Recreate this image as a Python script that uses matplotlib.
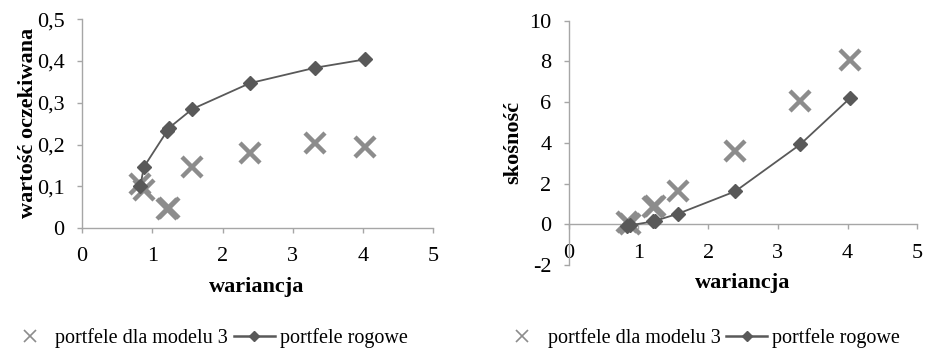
import matplotlib
matplotlib.use("Agg")
import matplotlib.pyplot as plt
from matplotlib.lines import Line2D
from matplotlib.ticker import FuncFormatter

# ---- data ----
wariancja = [0.83, 0.88, 1.21, 1.24, 1.57, 2.39, 3.32, 4.03]
ev_rogowe = [0.100, 0.146, 0.232, 0.240, 0.285, 0.347, 0.384, 0.404]
ev_model3 = [0.105, 0.090, 0.045, 0.047, 0.145, 0.179, 0.203, 0.193]
sk_rogowe = [-0.10, -0.05, 0.14, 0.17, 0.52, 1.62, 3.92, 6.18]
sk_model3 = [0.10, 0.00, 0.85, 0.90, 1.62, 3.62, 6.07, 8.07]

x_ticks = [0, 1, 2, 3, 4, 5]
ev_ticks = [0, 0.1, 0.2, 0.3, 0.4, 0.5]
sk_ticks = [-2, 0, 2, 4, 6, 8, 10]

label_m3 = "portfele dla modelu 3"
label_rog = "portfele rogowe"

SERIF = ["Liberation Serif", "DejaVu Serif"]
plt.rcParams['font.family'] = SERIF

C_LINE = "#595959"
C_X = "#8c8c8c"
C_AX = "#a6a6a6"

fig = plt.figure(figsize=(9.25, 3.55), dpi=100)
ax1 = fig.add_axes([82/925, 127/355, 351.3/925, 208.7/355])
ax2 = fig.add_axes([568.7/925, 90/355, 348.6/925, 244.3/355])

def style(ax):
    for s in ("top", "right"):
        ax.spines[s].set_visible(False)
    for s in ("left", "bottom"):
        ax.spines[s].set_color(C_AX)
        ax.spines[s].set_linewidth(1.0)
    ax.tick_params(axis="both", colors=C_AX, labelcolor="black",
                   labelsize=16, length=3.5, width=1.0, direction="out")
    ax.tick_params(axis="y", pad=9)
    ax.tick_params(axis="x", pad=10.5)

# left chart
ax1.plot(wariancja, ev_model3, linestyle="none", marker="x", markersize=14,
         markeredgewidth=3.2, color=C_X, zorder=2)
ax1.plot(wariancja, ev_rogowe, color=C_LINE, linewidth=1.3, marker="D",
         markersize=7, zorder=3)
ax1.set_xlim(0, 5)
ax1.set_ylim(0, 0.5)
ax1.set_xticks(x_ticks)
ax1.set_yticks(ev_ticks)
ax1.yaxis.set_major_formatter(FuncFormatter(lambda v, p: ("%g" % round(v, 2)).replace(".", ",")))
style(ax1)
ax1.set_xlabel("wariancja", fontsize=16, fontweight="bold")
ax1.set_ylabel("wartość oczekiwana", fontsize=16, fontweight="bold")
ax1.xaxis.set_label_coords(0.498, -0.235)
ax1.yaxis.set_label_coords(-0.125, 0.503)

# right chart
ax2.plot(wariancja, sk_model3, linestyle="none", marker="x", markersize=14,
         markeredgewidth=3.2, color=C_X, zorder=2)
ax2.plot(wariancja, sk_rogowe, color=C_LINE, linewidth=1.3, marker="D",
         markersize=7, zorder=3)
ax2.set_xlim(0, 5)
ax2.set_ylim(-2, 10)
ax2.set_xticks(x_ticks)
ax2.set_yticks(sk_ticks)
ax2.yaxis.set_major_formatter(FuncFormatter(lambda v, p: "%d" % v))
ax2.spines["bottom"].set_position(("data", 0))
style(ax2)
ax2.set_xlabel("wariancja", fontsize=16, fontweight="bold")
ax2.set_ylabel("skośność", fontsize=16, fontweight="bold")
ax2.xaxis.set_label_coords(0.5, -0.033)
ax2.yaxis.set_label_coords(-0.13, 0.5)
for a in (ax1, ax2):
    for lab in a.get_xticklabels() + a.get_yticklabels():
        lab.set_clip_on(False)

# legends
h_x = Line2D([], [], linestyle="none", marker="x", markersize=9,
             markeredgewidth=1.2, color=C_X)
h_d = Line2D([], [], color=C_LINE, linewidth=1.8, marker="D", markersize=5)
for xpos in (0.011, 0.543):
    fig.legend([h_x, h_d], [label_m3, label_rog], loc="center left",
               bbox_to_anchor=(xpos, 0.048), ncol=2, frameon=False,
               fontsize=14.5, handlelength=2.0, handletextpad=0.25,
               columnspacing=0.3, borderaxespad=0, borderpad=0)

fig.savefig("out.png", dpi=100)
